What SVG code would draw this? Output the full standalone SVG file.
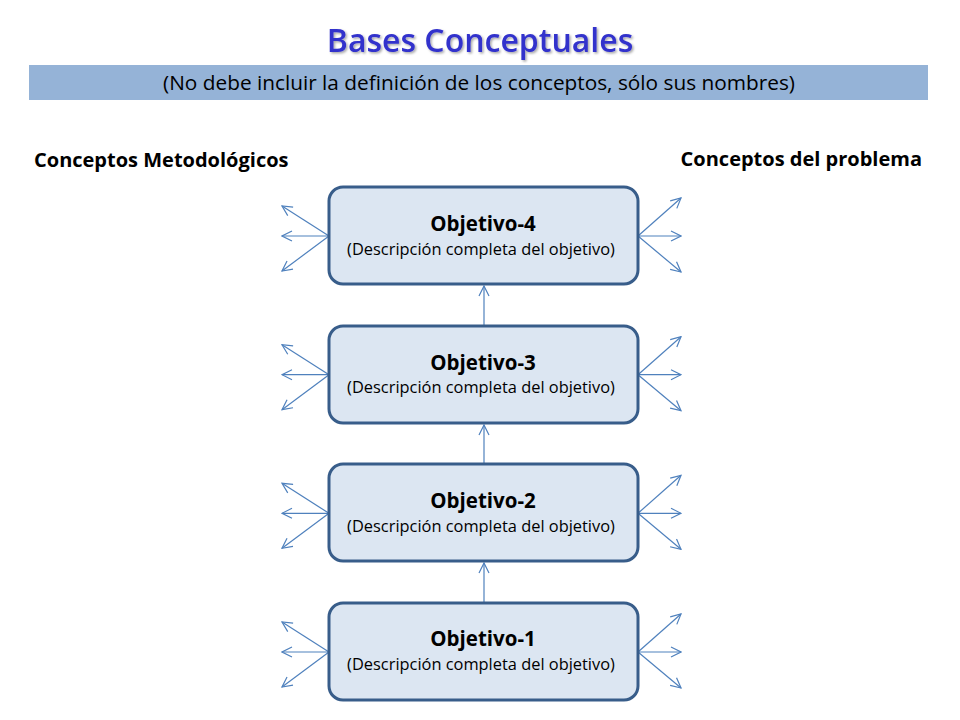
<svg xmlns="http://www.w3.org/2000/svg" width="960" height="720" viewBox="0 0 960 720">
<defs>
<marker id="arr" viewBox="0 0 12 12" refX="11" refY="6" markerWidth="12" markerHeight="12" markerUnits="userSpaceOnUse" orient="auto">
<path d="M1,1 L11,6 L1,11" fill="none" stroke="#4F81BD" stroke-width="1.2"/>
</marker>
<filter id="sh" x="-5%" y="-20%" width="110%" height="140%">
<feDropShadow dx="1.5" dy="1.5" stdDeviation="0.8" flood-color="#000" flood-opacity="0.35"/>
</filter>
</defs>
<style>
.box{fill:#DCE6F2;stroke:#385D8A;stroke-width:3}
.t{font-family:"Open Sans","Noto Sans","Liberation Sans",sans-serif;fill:#000;text-anchor:middle}
.h{font-size:20.5px;font-weight:bold}
.d{font-size:16.4px}
.c{stroke:#4F81BD;stroke-width:1.2;fill:none;marker-end:url(#arr)}
.hd{font-family:"Open Sans","Noto Sans","Liberation Sans",sans-serif;font-size:20px;font-weight:bold;fill:#000}
</style>
<rect width="960" height="720" fill="#fff"/>
<text x="480" y="52" text-anchor="middle" font-family="'Open Sans','Noto Sans','Liberation Sans',sans-serif" font-size="32" font-weight="600" fill="#3333CC" filter="url(#sh)">Bases Conceptuales</text>
<rect x="29" y="65" width="899" height="35" fill="#95B3D7"/>
<text x="479" y="90" text-anchor="middle" font-family="'Open Sans','Noto Sans','Liberation Sans',sans-serif" font-size="20.8" fill="#000">(No debe incluir la definición de los conceptos, sólo sus nombres)</text>
<text class="hd" x="34" y="167">Conceptos Metodológicos</text>
<text class="hd" x="922" y="166" text-anchor="end">Conceptos del problema</text>

<g id="connectors">
<line class="c" x1="484" y1="326" x2="484" y2="286"/>
<line class="c" x1="484" y1="464" x2="484" y2="425"/>
<line class="c" x1="484" y1="603" x2="484" y2="563"/>
<g id="side4">
<line class="c" x1="329" y1="236" x2="282" y2="206"/>
<line class="c" x1="329" y1="236" x2="282" y2="236"/>
<line class="c" x1="329" y1="236" x2="282" y2="271"/>
<line class="c" x1="638" y1="236" x2="681" y2="198"/>
<line class="c" x1="638" y1="236" x2="681" y2="236"/>
<line class="c" x1="638" y1="236" x2="681" y2="272"/>
</g>
<g id="side3" transform="translate(0,138.7)">
<line class="c" x1="329" y1="236" x2="282" y2="206"/>
<line class="c" x1="329" y1="236" x2="282" y2="236"/>
<line class="c" x1="329" y1="236" x2="282" y2="271"/>
<line class="c" x1="638" y1="236" x2="681" y2="198"/>
<line class="c" x1="638" y1="236" x2="681" y2="236"/>
<line class="c" x1="638" y1="236" x2="681" y2="272"/>
</g>
<g id="side2" transform="translate(0,277.3)">
<line class="c" x1="329" y1="236" x2="282" y2="206"/>
<line class="c" x1="329" y1="236" x2="282" y2="236"/>
<line class="c" x1="329" y1="236" x2="282" y2="271"/>
<line class="c" x1="638" y1="236" x2="681" y2="198"/>
<line class="c" x1="638" y1="236" x2="681" y2="236"/>
<line class="c" x1="638" y1="236" x2="681" y2="272"/>
</g>
<g id="side1" transform="translate(0,416)">
<line class="c" x1="329" y1="236" x2="282" y2="206"/>
<line class="c" x1="329" y1="236" x2="282" y2="236"/>
<line class="c" x1="329" y1="236" x2="282" y2="271"/>
<line class="c" x1="638" y1="236" x2="681" y2="198"/>
<line class="c" x1="638" y1="236" x2="681" y2="236"/>
<line class="c" x1="638" y1="236" x2="681" y2="272"/>
</g>
</g>

<g id="obj4">
<rect class="box" x="329" y="187" width="309" height="97" rx="14"/>
<text class="t h" x="483" y="231">Objetivo-4</text>
<text class="t d" x="481" y="255">(Descripción completa del objetivo)</text>
</g>
<g id="obj3">
<rect class="box" x="329" y="326" width="309" height="97" rx="14"/>
<text class="t h" x="483" y="370">Objetivo-3</text>
<text class="t d" x="481" y="393">(Descripción completa del objetivo)</text>
</g>
<g id="obj2">
<rect class="box" x="329" y="464" width="309" height="97" rx="14"/>
<text class="t h" x="483" y="508">Objetivo-2</text>
<text class="t d" x="481" y="532">(Descripción completa del objetivo)</text>
</g>
<g id="obj1">
<rect class="box" x="329" y="603" width="309" height="97" rx="14"/>
<text class="t h" x="483" y="646">Objetivo-1</text>
<text class="t d" x="481" y="670">(Descripción completa del objetivo)</text>
</g>
</svg>
